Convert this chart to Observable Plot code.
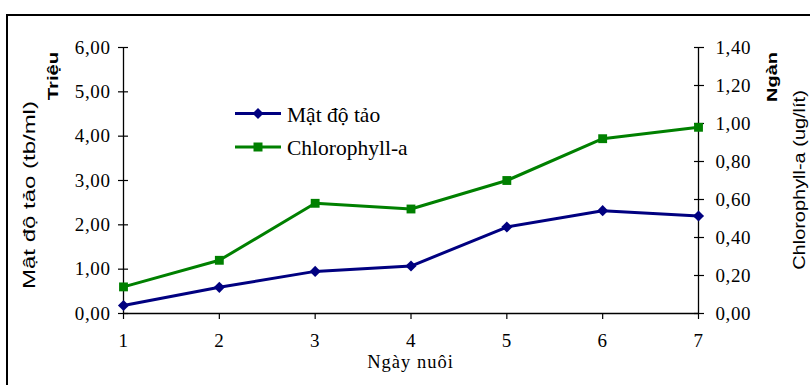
<!DOCTYPE html>
<html>
<head>
<meta charset="utf-8">
<script src="https://cdn.jsdelivr.net/npm/d3@7"></script>
<script src="https://cdn.jsdelivr.net/npm/@observablehq/plot@0.6"></script>
<style>
  html, body { margin: 0; padding: 0; background: #fff; overflow: hidden; }
  #chart { width: 810px; height: 385px; overflow: hidden; }
  #chart svg text { letter-spacing: 0.6px; }
</style>
</head>
<body>
<div id="chart"></div>
<script>
// Ngày nuôi (culture day)
const days = [1, 2, 3, 4, 5, 6, 7];
// Mật độ tảo, triệu tb/ml (left axis)
const matDoTao = [0.18, 0.59, 0.95, 1.07, 1.95, 2.32, 2.20];
// Chlorophyll-a, ngàn ug/lít (right axis)
const chlorophyllA = [0.14, 0.28, 0.58, 0.55, 0.70, 0.92, 0.98];

const leftTicks = [0, 1, 2, 3, 4, 5, 6];
const rightTicks = [0, 0.2, 0.4, 0.6, 0.8, 1.0, 1.2, 1.4];

const seriesNames = ["Mật độ tảo", "Chlorophyll-a"];
const seriesColors = ["#000080", "#008000"];

// right axis is drawn on the left scale: 1,40 lines up with 6,00
const k = leftTicks[leftTicks.length - 1] / rightTicks[rightTicks.length - 1];

const rows = days.map((d, i) => ({day: d, m: matDoTao[i], c: chlorophyllA[i] * k}));
const fmt = v => d3.format(".2f")(v).replace(".", ",");
const serif = "'Liberation Serif', 'Times New Roman', serif";
const sans = "'Liberation Sans', Arial, sans-serif";

const plot = Plot.plot({
  width: 810,
  height: 385,
  marginLeft: 123,
  marginRight: 112,
  marginTop: 47,
  marginBottom: 72,
  x: {domain: d3.extent(days)},
  y: {domain: d3.extent(leftTicks)},
  style: {fontFamily: serif, fontSize: "19px", color: "#000", background: "transparent", overflow: "visible"},
  marks: [
    // axis lines
    Plot.ruleX(d3.extent(days), {stroke: "#000", strokeWidth: 1.3}),
    Plot.ruleY([0], {stroke: "#000", strokeWidth: 1.3}),
    // left axis: cross ticks + labels
    Plot.axisY({ticks: leftTicks, tickSize: 10, dx: 5, tickFormat: () => "", label: null, strokeWidth: 1.2}),
    Plot.axisY({ticks: leftTicks, tickSize: 0, tickPadding: 13, tickFormat: fmt, label: null}),
    // right axis: cross ticks + labels
    Plot.axisY({anchor: "right", ticks: rightTicks.map(v => v * k), tickSize: 10, dx: -5, tickFormat: () => "", label: null, strokeWidth: 1.2}),
    Plot.axisY({anchor: "right", ticks: rightTicks.map(v => v * k), tickSize: 0, tickPadding: 17, tickFormat: v => fmt(v / k), label: null}),
    // x axis
    Plot.axisX({ticks: days, tickSize: 6, tickPadding: 14, tickFormat: d => d, label: null, strokeWidth: 1.2}),
    // series
    Plot.line(rows, {x: "day", y: "m", stroke: seriesColors[0], strokeWidth: 3}),
    Plot.dot(rows, {x: "day", y: "m", symbol: "diamond2", r: 5, fill: seriesColors[0]}),
    Plot.line(rows, {x: "day", y: "c", stroke: seriesColors[1], strokeWidth: 3}),
    Plot.dot(rows, {x: "day", y: "c", symbol: "square", r: 5, fill: seriesColors[1]})
  ]
});

const svg = d3.select(plot);

// outer chart border
svg.insert("rect", ":first-child")
  .attr("x", 7).attr("y", 15).attr("width", 900).attr("height", 500)
  .attr("fill", "none").attr("stroke", "#000").attr("stroke-width", 2);

// rotated axis titles (stretched along their length)
function vtitle(text, x, y, size, weight, sx) {
  svg.append("text")
    .attr("transform", `translate(${x},${y}) rotate(-90) scale(${sx},1)`)
    .attr("text-anchor", "middle")
    .style("font-family", sans)
    .style("font-size", size + "px")
    .style("font-weight", weight)
    .style("letter-spacing", "0px")
    .attr("fill", "#000")
    .text(text);
}
vtitle("Mật độ tảo (tb/ml)", 35, 195, 16, "normal", 1.5);
vtitle("Triệu", 58, 76, 14, "bold", 1.45);
vtitle("Ngàn", 777, 77, 14, "bold", 1.43);
vtitle("Chlorophyll-a (ug/lít)", 805, 180, 16.5, "normal", 1.21);

// x axis title
svg.append("text")
  .attr("x", 410.5).attr("y", 368)
  .attr("text-anchor", "middle")
  .style("font-family", serif).style("font-size", "18.5px").style("letter-spacing", "1px")
  .attr("fill", "#000")
  .text("Ngày nuôi");

// legend
const legendSymbols = [d3.symbolDiamond2, d3.symbolSquare];
const legendSizes = [77, 81];
seriesNames.forEach((name, i) => {
  const cy = 113.5 + i * 33.5;
  const g = svg.append("g");
  g.append("line").attr("x1", 235).attr("x2", 281).attr("y1", cy).attr("y2", cy)
    .attr("stroke", seriesColors[i]).attr("stroke-width", 3);
  g.append("path").attr("d", d3.symbol(legendSymbols[i], legendSizes[i])())
    .attr("transform", `translate(258,${cy})`).attr("fill", seriesColors[i]);
  g.append("text").attr("x", 287).attr("y", cy + 8)
    .attr("text-anchor", "start")
    .style("font-family", serif).style("font-size", "21.5px").style("letter-spacing", "0px")
    .attr("fill", "#000").text(name);
});

document.getElementById("chart").appendChild(plot);
</script>
</body>
</html>
